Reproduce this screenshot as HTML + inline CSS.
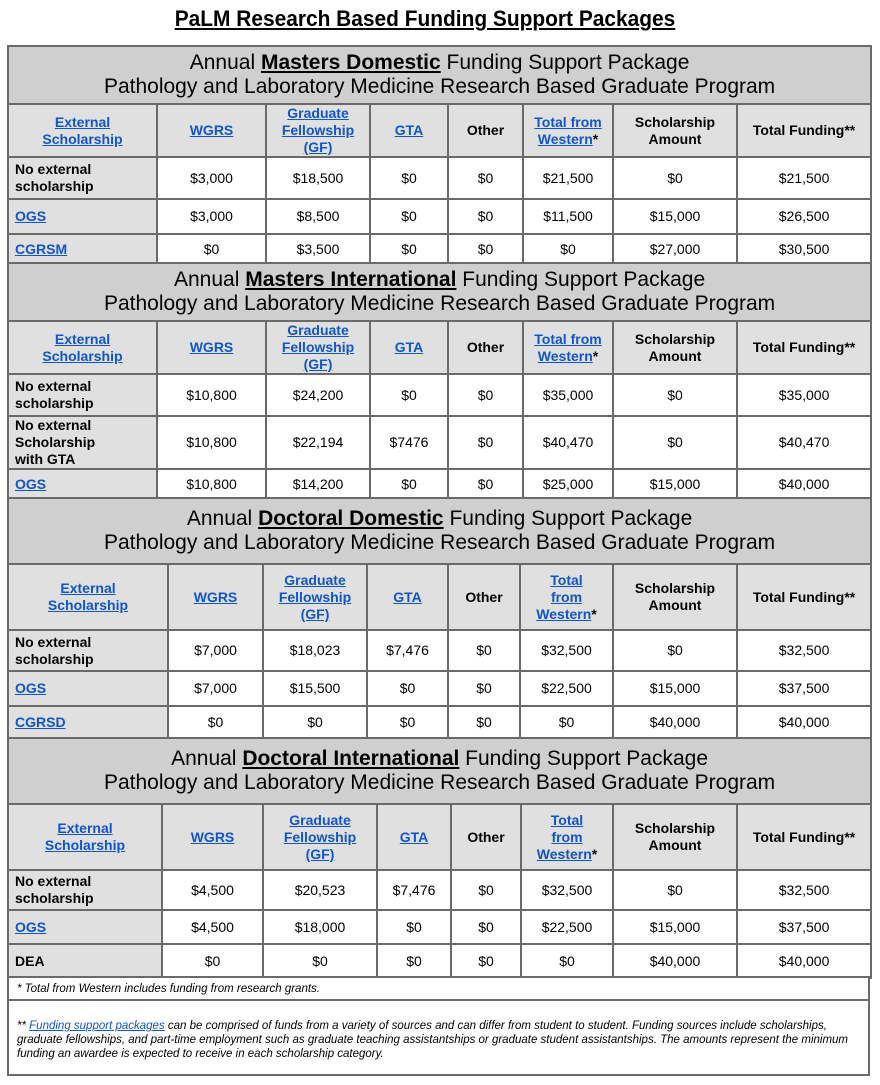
<!DOCTYPE html>
<html><head><meta charset="utf-8"><style>
*{margin:0;padding:0;box-sizing:border-box}
body{width:880px;height:1085px;background:#fff;font-family:"Liberation Sans",Arial,sans-serif;color:#000;position:relative;overflow:hidden}
.title{position:absolute;left:-15px;width:880px;top:6px;text-align:center;font-weight:bold;font-size:22px;text-decoration:underline;transform:scaleX(0.95)}
.sec{position:absolute;left:7px;width:863px}
table{border-collapse:collapse;table-layout:fixed;width:863px}
td{border:2px solid #6a6a6a;text-align:center;vertical-align:middle;font-size:14px;line-height:17px;background:#fff;overflow:hidden}
td.h{background:#cfcfcf;font-size:21px;line-height:24px;white-space:nowrap}
tr.ch td{background:#e0e0e0;font-weight:bold}
td.f{background:#e0e0e0;text-align:left;padding-left:6px;font-weight:bold}
a{color:#1155cc;text-decoration:underline;font-weight:bold}
.fn{position:absolute;left:7px;width:863px;border:2px solid #6a6a6a;font-style:italic;font-size:11.5px;line-height:14px;padding:0 8px;background:#fff}
</style></head><body>
<div class="title">PaLM Research Based Funding Support Packages</div>

<div class="sec" style="top:45px"><table>
<colgroup><col style="width:149px"><col style="width:109px"><col style="width:104px"><col style="width:78px"><col style="width:75px"><col style="width:90px"><col style="width:124px"><col style="width:134px"></colgroup>
<tr style="height:58px"><td class="h" colspan="8">Annual <b><u>Masters Domestic</u></b> Funding Support Package<br>Pathology and Laboratory Medicine Research Based Graduate Program</td></tr>
<tr class="ch" style="height:52px"><td><a>External<br>Scholarship</a></td><td><a>WGRS</a></td><td><a>Graduate<br>Fellowship<br>(GF)</a></td><td><a>GTA</a></td><td>Other</td><td><a>Total from<br>Western</a>*</td><td>Scholarship<br>Amount</td><td>Total Funding**</td></tr>
<tr style="height:42px"><td class="f">No external<br>scholarship</td><td>$3,000</td><td>$18,500</td><td>$0</td><td>$0</td><td>$21,500</td><td>$0</td><td>$21,500</td></tr>
<tr style="height:35px"><td class="f"><a>OGS</a></td><td>$3,000</td><td>$8,500</td><td>$0</td><td>$0</td><td>$11,500</td><td>$15,000</td><td>$26,500</td></tr>
<tr style="height:30px"><td class="f"><a>CGRSM</a></td><td>$0</td><td>$3,500</td><td>$0</td><td>$0</td><td>$0</td><td>$27,000</td><td>$30,500</td></tr>
</table></div>

<div class="sec" style="top:262px"><table>
<colgroup><col style="width:149px"><col style="width:109px"><col style="width:104px"><col style="width:78px"><col style="width:75px"><col style="width:90px"><col style="width:124px"><col style="width:134px"></colgroup>
<tr style="height:58px"><td class="h" colspan="8">Annual <b><u>Masters International</u></b> Funding Support Package<br>Pathology and Laboratory Medicine Research Based Graduate Program</td></tr>
<tr class="ch" style="height:52px"><td><a>External<br>Scholarship</a></td><td><a>WGRS</a></td><td><a>Graduate<br>Fellowship<br>(GF)</a></td><td><a>GTA</a></td><td>Other</td><td><a>Total from<br>Western</a>*</td><td>Scholarship<br>Amount</td><td>Total Funding**</td></tr>
<tr style="height:42px"><td class="f">No external<br>scholarship</td><td>$10,800</td><td>$24,200</td><td>$0</td><td>$0</td><td>$35,000</td><td>$0</td><td>$35,000</td></tr>
<tr style="height:53px"><td class="f">No external<br>Scholarship<br>with GTA</td><td>$10,800</td><td>$22,194</td><td>$7476</td><td>$0</td><td>$40,470</td><td>$0</td><td>$40,470</td></tr>
<tr style="height:30px"><td class="f"><a>OGS</a></td><td>$10,800</td><td>$14,200</td><td>$0</td><td>$0</td><td>$25,000</td><td>$15,000</td><td>$40,000</td></tr>
</table></div>

<div class="sec" style="top:497px"><table>
<colgroup><col style="width:160px"><col style="width:95px"><col style="width:104px"><col style="width:81px"><col style="width:72px"><col style="width:93px"><col style="width:124px"><col style="width:134px"></colgroup>
<tr style="height:66px"><td class="h" colspan="8">Annual <b><u>Doctoral Domestic</u></b> Funding Support Package<br>Pathology and Laboratory Medicine Research Based Graduate Program</td></tr>
<tr class="ch" style="height:66px"><td><a>External<br>Scholarship</a></td><td><a>WGRS</a></td><td><a>Graduate<br>Fellowship<br>(GF)</a></td><td><a>GTA</a></td><td>Other</td><td><a>Total<br>from<br>Western</a>*</td><td>Scholarship<br>Amount</td><td>Total Funding**</td></tr>
<tr style="height:41px"><td class="f">No external<br>scholarship</td><td>$7,000</td><td>$18,023</td><td>$7,476</td><td>$0</td><td>$32,500</td><td>$0</td><td>$32,500</td></tr>
<tr style="height:35px"><td class="f"><a>OGS</a></td><td>$7,000</td><td>$15,500</td><td>$0</td><td>$0</td><td>$22,500</td><td>$15,000</td><td>$37,500</td></tr>
<tr style="height:32px"><td class="f"><a>CGRSD</a></td><td>$0</td><td>$0</td><td>$0</td><td>$0</td><td>$0</td><td>$40,000</td><td>$40,000</td></tr>
</table></div>

<div class="sec" style="top:737px"><table>
<colgroup><col style="width:154px"><col style="width:101px"><col style="width:114px"><col style="width:74px"><col style="width:70px"><col style="width:92px"><col style="width:124px"><col style="width:134px"></colgroup>
<tr style="height:66px"><td class="h" colspan="8">Annual <b><u>Doctoral International</u></b> Funding Support Package<br>Pathology and Laboratory Medicine Research Based Graduate Program</td></tr>
<tr class="ch" style="height:66px"><td><a>External<br>Scholarship</a></td><td><a>WGRS</a></td><td><a>Graduate<br>Fellowship<br>(GF)</a></td><td><a>GTA</a></td><td>Other</td><td><a>Total<br>from<br>Western</a>*</td><td>Scholarship<br>Amount</td><td>Total Funding**</td></tr>
<tr style="height:40px"><td class="f">No external<br>scholarship</td><td>$4,500</td><td>$20,523</td><td>$7,476</td><td>$0</td><td>$32,500</td><td>$0</td><td>$32,500</td></tr>
<tr style="height:34px"><td class="f"><a>OGS</a></td><td>$4,500</td><td>$18,000</td><td>$0</td><td>$0</td><td>$22,500</td><td>$15,000</td><td>$37,500</td></tr>
<tr style="height:34px"><td class="f">DEA</td><td>$0</td><td>$0</td><td>$0</td><td>$0</td><td>$0</td><td>$40,000</td><td>$40,000</td></tr>
</table></div>

<div class="fn" style="top:976px;height:25px;padding-top:4px">* Total from Western includes funding from research grants.</div>
<div class="fn" style="top:999px;height:77px;padding-top:18px">** <a style="font-weight:normal">Funding support packages</a> can be comprised of funds from a variety of sources and can differ from student to student. Funding sources include scholarships, graduate fellowships, and part-time employment such as graduate teaching assistantships or graduate student assistantships. The amounts represent the minimum funding an awardee is expected to receive in each scholarship category.</div>
</body></html>
